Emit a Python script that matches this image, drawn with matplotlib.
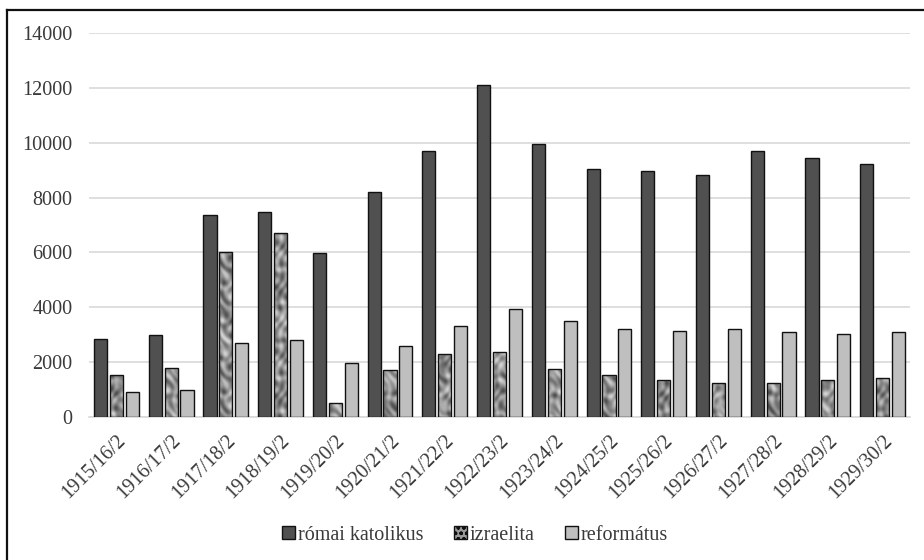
import numpy as np
import matplotlib
matplotlib.use("Agg")
import matplotlib.pyplot as plt
from matplotlib.path import Path
from matplotlib.patches import Patch
from matplotlib.lines import Line2D

categories = ["1915/16/2", "1916/17/2", "1917/18/2", "1918/19/2", "1919/20/2",
              "1920/21/2", "1921/22/2", "1922/23/2", "1923/24/2", "1924/25/2",
              "1925/26/2", "1926/27/2", "1927/28/2", "1928/29/2", "1929/30/2"]
romai_katolikus = [2860, 2980, 7360, 7480, 5970, 8200, 9700, 12090, 9940, 9030,
                   8980, 8820, 9710, 9430, 9210]
izraelita = [1520, 1800, 6030, 6700, 520, 1700, 2310, 2370, 1750, 1530,
             1360, 1250, 1250, 1360, 1420]
reformatus = [910, 970, 2700, 2810, 1980, 2590, 3300, 3920, 3490, 3200,
              3150, 3200, 3090, 3040, 3090]
series_names = ["római katolikus", "izraelita", "református"]
y_ticks = [0, 2000, 4000, 6000, 8000, 10000, 12000, 14000]

plt.rcParams['font.family'] = ['Liberation Serif', 'DejaVu Serif']
matplotlib.rcParams['hatch.color'] = '#333333'
FS = 14.5
TXT = '#3a3a3a'

fig = plt.figure(figsize=(9.24, 5.6), dpi=100)
ax = fig.add_axes([89/924, 1-417/560, (910-89)/924, (417-33)/560])

x = np.arange(len(categories))
w = 0.24
off = 0.29
b1 = ax.bar(x - off, romai_katolikus, w, color='#505050', edgecolor='#111111', linewidth=1.0, zorder=3)
b2 = ax.bar(x, izraelita, w, color='none', edgecolor='#111111', linewidth=1.0, zorder=4)
b3 = ax.bar(x + off, reformatus, w, color='#bfbfbf', edgecolor='#111111', linewidth=1.0, zorder=3)

ax.set_xlim(-0.5, len(categories) - 0.5)
ax.set_ylim(0, 14000)

# marble-like texture for izraelita bars (style only)
H, W = 400, 860
yy, xx = np.mgrid[0:H, 0:W].astype(float)
tex = (np.sin(xx / 3.2 + 2.5 * np.sin(yy / 6.0)) * np.cos(yy / 4.5 + 2.0 * np.sin(xx / 4.0))
       + 0.4 * np.sin((xx - yy) / 2.6))
tex = (tex - tex.min()) / (tex.max() - tex.min())
im = ax.imshow(tex, extent=(-0.5, len(categories) - 0.5, 0, 14000), aspect='auto',
               cmap='gray', vmin=-0.55, vmax=1.3, zorder=3.5, interpolation='bilinear')
verts, codes = [], []
for b in b2:
    x0, y0 = b.get_x(), b.get_y()
    x1, y1 = x0 + b.get_width(), y0 + b.get_height()
    verts += [(x0, y0), (x1, y0), (x1, y1), (x0, y1), (x0, y0)]
    codes += [Path.MOVETO, Path.LINETO, Path.LINETO, Path.LINETO, Path.CLOSEPOLY]
im.set_clip_path(Path(verts, codes), ax.transData)
ax.set_xlim(-0.5, len(categories) - 0.5)
ax.set_ylim(0, 14000)

ax.set_yticks(y_ticks)
ax.set_yticklabels([str(v) for v in y_ticks], fontsize=FS, color=TXT)
ax.yaxis.grid(True, color='#d9d9d9', linewidth=1.2, zorder=0)
ax.set_axisbelow(True)
ax.set_xticks(x)
ax.set_xticklabels(categories, rotation=45, ha='right', rotation_mode='anchor',
                   fontsize=FS, color=TXT)
ax.tick_params(axis='both', length=0)
ax.tick_params(axis='y', pad=12)
ax.tick_params(axis='x', pad=10)
for s in ['top', 'right', 'left']:
    ax.spines[s].set_visible(False)
ax.spines['bottom'].set_color('#d9d9d9')
ax.spines['bottom'].set_linewidth(1.2)

handles = [Patch(facecolor='#505050', edgecolor='#111111'),
           Patch(facecolor='#9a9a9a', edgecolor='#111111', hatch='ooo'),
           Patch(facecolor='#bfbfbf', edgecolor='#111111')]
fig.legend(handles, series_names, loc='center', bbox_to_anchor=(475/924, 1-535/560),
           ncol=3, frameon=False, fontsize=FS, handlelength=0.65, handleheight=0.65,
           handletextpad=0.15, columnspacing=1.5, labelcolor=TXT)

# outer chart frame (left and top visible)
fig.add_artist(Line2D([7/924, 7/924], [0, 1-10/560], transform=fig.transFigure,
                      color='#111111', linewidth=1.6))
fig.add_artist(Line2D([7/924, 1], [1-10/560, 1-10/560], transform=fig.transFigure,
                      color='#111111', linewidth=1.6))

fig.savefig('out.png', dpi=100)
